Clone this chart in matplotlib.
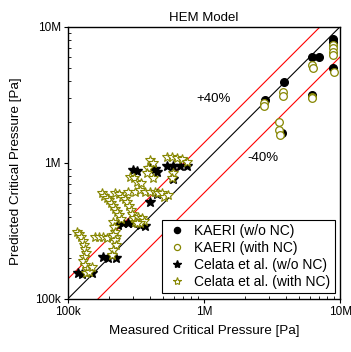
import numpy as np
import matplotlib
matplotlib.use("Agg")
import matplotlib.pyplot as plt
from matplotlib.ticker import FixedLocator, LogLocator, NullFormatter

plt.rcParams["font.family"] = ["Liberation Sans", "DejaVu Sans"]

OLIVE = "#868600"

# KAERI (w/o NC), measured / predicted [Pa]
kaeri_wo_meas = [8.93e6, 8.93e6, 6.19e6, 7.01e6, 3.90e6, 2.80e6, 6.19e6, 3.75e6, 8.93e6]
kaeri_wo_pred = [8.07e6, 7.70e6, 6.02e6, 6.02e6, 3.90e6, 2.87e6, 3.15e6, 1.65e6, 4.94e6]

# KAERI (with NC)
kaeri_w_meas = [8.93e6, 8.93e6, 8.93e6, 8.93e6, 6.19e6, 6.30e6, 9.05e6, 6.19e6, 6.19e6,
                3.79e6, 3.79e6, 2.74e6, 2.78e6, 3.57e6, 3.57e6, 3.62e6]
kaeri_w_pred = [7.33e6, 6.93e6, 6.55e6, 6.19e6, 5.23e6, 4.94e6, 4.67e6, 3.06e6, 2.98e6,
                3.33e6, 3.10e6, 2.73e6, 2.61e6, 2.00e6, 1.74e6, 1.60e6]

# Celata et al. (w/o NC) [kPa]
celata_wo_meas = [118.4, 126.7, 150.1, 182.7, 198.9, 226.5,
                  235.6, 256.4, 279.0, 303.6, 339.8, 369.8,
                  402.4, 450.5, 303.6, 321.2, 402.4, 438.0, 450.5,
                  533.5, 597.0, 668.3, 747.9, 597.0]
celata_wo_pred = [154.3, 152.6, 154.3, 204.6, 198.9, 201.2,
                  349.5, 363.6, 363.6, 359.5, 349.5, 343.6,
                  512.9, 590.3, 886.0, 876.0, 921.6, 901.1, 861.3,
                  953.3, 953.3, 953.3, 953.3, 760.7]

# Celata et al. (with NC) [kPa]
celata_w_meas = [117.8, 121.8, 126.0, 130.3,
                 131.8, 134.8, 135.6, 132.6, 130.3, 134.1, 139.5,
                 136.4, 142.6, 150.9,
                 158.8, 170.9, 182.7, 195.6, 210.4, 226.5,
                 214.0, 218.9, 222.6, 216.4, 222.6, 226.5, 214.0, 210.4,
                 177.7, 185.8, 193.4, 202.3, 209.3, 216.4, 223.9, 231.7, 238.3, 245.1,
                 222.6, 236.9, 250.6, 263.6, 274.3, 283.8, 291.9, 298.5, 307.0, 314.1,
                 330.4, 349.5, 363.6, 339.8, 321.2,
                 279.0, 312.3, 339.8, 369.8, 402.4, 438.0, 463.4, 490.1, 510.0, 548.8,
                 287.0, 308.8, 321.2, 343.6,
                 402.4, 421.0, 391.2, 380.4, 425.8,
                 533.5, 580.4, 631.6, 687.4, 747.9,
                 597.0, 580.4]
celata_w_pred = [308.8, 298.5, 287.0, 268.2,
                 249.2, 231.7, 216.4, 204.6, 191.2, 177.7, 165.1,
                 156.1, 158.8, 172.8,
                 283.8, 283.8, 283.8, 282.2, 283.8, 283.8,
                 369.8, 339.8, 312.3, 295.1, 271.3, 249.2, 229.1, 210.4,
                 603.8, 574.0, 551.8, 530.5, 507.0, 484.7, 460.7, 435.5, 411.6, 389.0,
                 603.8, 587.0, 564.4, 539.5, 518.7, 481.9, 450.5, 421.0, 391.2, 369.8,
                 402.4, 391.2, 376.1, 363.6, 359.5,
                 614.1, 614.1, 631.6, 614.1, 614.1, 614.1, 597.0, 597.0, 564.4, 580.4,
                 791.3, 769.3, 719.2, 707.2,
                 1049, 991.6, 911.3, 837.4, 769.3,
                 1097, 1097, 1079, 1061, 1020,
                 837.4, 769.3]

ref_line = [1e5, 1e7]
band = 0.4

fig = plt.figure(figsize=(3.51, 3.52), dpi=100)
ax = fig.add_axes([0.193, 0.1506, 0.776, 0.7736])

ax.plot(ref_line, ref_line, color="black", lw=0.8, zorder=1)
ax.plot(ref_line, [v * (1 + band) for v in ref_line], color="red", lw=0.8, zorder=1)
ax.plot(ref_line, [v * (1 - band) for v in ref_line], color="red", lw=0.8, zorder=1)

ax.plot(kaeri_wo_meas, kaeri_wo_pred, "o", ms=5.5, color="black", ls="none",
        label="KAERI (w/o NC)", zorder=3)
ax.plot(kaeri_w_meas, kaeri_w_pred, "o", ms=5.5, mfc="white", mec=OLIVE, mew=0.9,
        ls="none", label="KAERI (with NC)", zorder=4)
ax.plot(np.array(celata_wo_meas) * 1e3, np.array(celata_wo_pred) * 1e3, "*", ms=7.5,
        color="black", ls="none", label="Celata et al. (w/o NC)", zorder=3)
ax.plot(np.array(celata_w_meas) * 1e3, np.array(celata_w_pred) * 1e3, "*", ms=7.5,
        mfc="white", mec=OLIVE, mew=0.8, ls="none",
        label="Celata et al. (with NC)", zorder=4)

ax.text(1.17e6, 2.94e6, "+40%", fontsize=9.5, ha="center", va="center")
ax.text(2.72e6, 1.08e6, "-40%", fontsize=9.5, ha="center", va="center")

ax.set_xscale("log")
ax.set_yscale("log")
ax.set_xlim(1e5, 1e7)
ax.set_ylim(1e5, 1e7)

major = [1e5, 1e6, 1e7]
labels = ["100k", "1M", "10M"]
for axis in (ax.xaxis, ax.yaxis):
    axis.set_major_locator(FixedLocator(major))
    axis.set_minor_locator(LogLocator(base=10, subs=np.arange(2, 10)))
    axis.set_minor_formatter(NullFormatter())
ax.set_xticklabels(labels)
ax.set_yticklabels(labels)
ax.tick_params(which="major", direction="out", length=3, width=0.8, labelsize=8.5,
               pad=2)
ax.tick_params(which="minor", direction="in", length=2.5, width=0.6,
               top=False, right=False)

for s in ax.spines.values():
    s.set_linewidth(1.0)

ax.set_title("HEM Model", fontsize=9.5, pad=4)
ax.set_xlabel("Measured Critical Pressure [Pa]", fontsize=9.7, labelpad=5)
ax.set_ylabel("Predicted Critical Pressure [Pa]", fontsize=9.7)
ax.yaxis.set_label_coords(-0.168, 0.47)

leg = ax.legend(loc="lower right", fontsize=10, frameon=True, fancybox=False,
                edgecolor="black", framealpha=1, borderpad=0.3, labelspacing=0.22,
                handletextpad=0.45, handlelength=1.6, borderaxespad=0.4,
                markerscale=0.8)
leg.get_frame().set_linewidth(0.8)

fig.savefig("out.png", dpi=100)
